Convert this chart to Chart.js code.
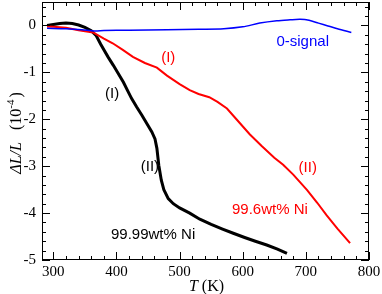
<!DOCTYPE html>
<html>
<head>
<meta charset="utf-8">
<script src="https://cdn.jsdelivr.net/npm/chart.js@4.4.0/dist/chart.umd.min.js"></script>
<style>
  html, body { margin: 0; padding: 0; background: #fff; }
  #wrap { width: 382px; height: 294px; }
</style>
</head>
<body>
<div id="wrap"><canvas id="dilChart" width="382" height="294"></canvas></div>
<script>
// ========== DATA ==========
// 99.99wt% Ni (black)
const tempBlack = [290, 300, 310, 320, 330, 340, 350, 360, 368, 375, 380, 387, 395, 403, 411, 418, 424, 432, 440, 448, 456, 461, 464, 467, 471, 475, 482, 490, 500, 516, 532, 550, 568, 585, 603, 620, 638, 655, 670];
const dlBlack   = [0.00, 0.02, 0.04, 0.05, 0.04, 0.01, -0.04, -0.11, -0.22, -0.40, -0.52, -0.68, -0.85, -1.03, -1.21, -1.40, -1.56, -1.74, -1.91, -2.09, -2.27, -2.42, -2.62, -2.98, -3.30, -3.50, -3.69, -3.80, -3.89, -4.00, -4.13, -4.24, -4.34, -4.43, -4.52, -4.60, -4.68, -4.77, -4.86];

// 99.6wt% Ni (red)
const tempRed = [290, 300, 320, 340, 363, 380, 394, 410, 426, 445, 464, 480, 500, 516, 530, 547, 560, 575, 590, 611, 630, 650, 664, 680, 702, 718, 733, 750, 770];
const dlRed   = [-0.02, -0.03, -0.05, -0.10, -0.15, -0.28, -0.38, -0.52, -0.67, -0.80, -0.90, -1.07, -1.25, -1.38, -1.46, -1.53, -1.63, -1.77, -2.00, -2.32, -2.57, -2.82, -2.97, -3.18, -3.51, -3.78, -4.05, -4.33, -4.64];

// 0-signal (blue)
const tempBlue = [290, 320, 345, 365, 380, 420, 480, 530, 570, 600, 627, 654, 675, 691, 705, 720, 735, 750, 772];
const dlBlue   = [-0.06, -0.07, -0.09, -0.12, -0.11, -0.10, -0.09, -0.08, -0.07, -0.03, 0.05, 0.10, 0.12, 0.13, 0.11, 0.05, -0.01, -0.07, -0.15];

// ========== AXES ==========
const xMajorTicks = [300, 400, 500, 600, 700, 800];
const yMajorTicks = [-5, -4, -3, -2, -1, 0];
const xMinorStep = 20;
const yMinorStep = 0.2;

// ========== TEXT LABELS (data coords) ==========
const notes = [
  { text: '0-signal',    t: 695, v: -0.36, color: '#0000ff' },
  { text: '(I)',         t: 482, v: -0.70, color: '#ff0000' },
  { text: '(I)',         t: 393, v: -1.45, color: '#000000' },
  { text: '(II)',        t: 453, v: -3.02, color: '#000000' },
  { text: '(II)',        t: 703, v: -3.04, color: '#ff0000' },
  { text: '99.6wt% Ni',  t: 643, v: -3.94, color: '#ff0000' },
  { text: '99.99wt% Ni', t: 458, v: -4.47, color: '#000000' }
];

function toPoints(ts, vs) {
  return ts.map((t, i) => ({ x: t, y: vs[i] }));
}

const xTickValues = [];
for (let t = 300; t <= 800; t += xMinorStep) xTickValues.push(t);
const yTickValues = [];
for (let i = 0; i <= 27; i++) yTickValues.push(Math.round((-5 + i * yMinorStep) * 10) / 10);

const serif = '"Liberation Serif", "Times New Roman", serif';
const sans = '"Liberation Sans", Arial, sans-serif';

// ========== FRAME, INWARD TICKS, NOTES, TITLES ==========
const decorPlugin = {
  id: 'decor',
  afterDatasetsDraw(chart) {
    const { ctx, chartArea: a, scales: { x, y } } = chart;
    ctx.save();
    ctx.strokeStyle = '#000';
    ctx.lineWidth = 1;
    ctx.beginPath();
    xTickValues.forEach(v => {
      const px = Math.round(x.getPixelForValue(v)) + 0.5;
      const len = xMajorTicks.includes(v) ? 8 : 4;
      ctx.moveTo(px, a.bottom); ctx.lineTo(px, a.bottom - len);
      ctx.moveTo(px, a.top); ctx.lineTo(px, a.top + len);
    });
    yTickValues.forEach(v => {
      const py = Math.round(y.getPixelForValue(v)) + 0.5;
      const len = yMajorTicks.includes(v) ? 8 : 4;
      ctx.moveTo(a.left, py); ctx.lineTo(a.left + len, py);
      ctx.moveTo(a.right, py); ctx.lineTo(a.right - len, py);
    });
    ctx.stroke();
    ctx.strokeRect(Math.round(a.left) + 0.5, Math.round(a.top) + 0.5, Math.round(a.width) - 1, Math.round(a.height) - 1);

    // notes
    ctx.font = '15px ' + sans;
    ctx.textAlign = 'center';
    ctx.textBaseline = 'middle';
    notes.forEach(n => {
      ctx.fillStyle = n.color;
      ctx.fillText(n.text, x.getPixelForValue(n.t), y.getPixelForValue(n.v));
    });

    // x title: T (K)
    ctx.fillStyle = '#000';
    ctx.textAlign = 'left';
    ctx.textBaseline = 'alphabetic';
    ctx.font = 'italic 16px ' + serif;
    const wT = ctx.measureText('T').width;
    ctx.font = '16px ' + serif;
    const wK = ctx.measureText('(K)').width;
    const gap = 4;
    let sx = (a.left + a.right) / 2 + 1 - (wT + gap + wK) / 2;
    ctx.font = 'italic 16px ' + serif;
    ctx.fillText('T', sx, 291);
    ctx.font = '16px ' + serif;
    ctx.fillText('(K)', sx + wT + gap, 291);

    // y title: ΔL/L (10^-4)
    ctx.save();
    ctx.translate(15, (a.top + a.bottom) / 2 + 2);
    ctx.rotate(-Math.PI / 2);
    ctx.font = 'italic 16px ' + serif;
    const w1 = ctx.measureText('\u0394L/L').width;
    ctx.font = '16px ' + serif;
    const w2 = ctx.measureText('(10').width;
    ctx.font = '11px ' + serif;
    const w3 = ctx.measureText('-4').width;
    ctx.font = '16px ' + serif;
    const w4 = ctx.measureText(')').width;
    const gap2 = 12;
    let lx = -(w1 + gap2 + w2 + w3 + w4 + 2) / 2;
    const base = 6;
    ctx.font = 'italic 16px ' + serif;
    ctx.fillText('\u0394L/L', lx, base);
    lx += w1 + gap2;
    ctx.font = '16px ' + serif;
    ctx.fillText('(10', lx, base);
    lx += w2;
    ctx.font = '11px ' + serif;
    ctx.fillText('-4', lx, base - 7);
    lx += w3 + 2;
    ctx.font = '16px ' + serif;
    ctx.fillText(')', lx, base);
    ctx.restore();

    ctx.restore();
  }
};

// ========== CHART ==========
const dilCtx = document.getElementById('dilChart');
const dilChart = new Chart(dilCtx, {
  type: 'line',
  data: {
    datasets: [
      {
        label: '0-signal',
        data: toPoints(tempBlue, dlBlue),
        borderColor: '#0000ff',
        borderWidth: 1.5,
        pointRadius: 0,
        tension: 0.3,
        fill: false
      },
      {
        label: '99.6wt% Ni',
        data: toPoints(tempRed, dlRed),
        borderColor: '#ff0000',
        borderWidth: 2,
        pointRadius: 0,
        tension: 0,
        fill: false
      },
      {
        label: '99.99wt% Ni',
        data: toPoints(tempBlack, dlBlack),
        borderColor: '#000000',
        borderWidth: 3,
        pointRadius: 0,
        tension: 0,
        fill: false
      }
    ]
  },
  options: {
    responsive: false,
    animation: false,
    devicePixelRatio: 1,
    layout: { padding: { top: 2, right: 13, left: 0, bottom: 0 } },
    plugins: {
      legend: { display: false },
      tooltip: { enabled: false }
    },
    scales: {
      x: {
        type: 'linear',
        min: 282,
        max: 800,
        grid: { display: false, drawTicks: false },
        border: { display: false },
        afterBuildTicks: scale => { scale.ticks = xTickValues.map(v => ({ value: v })); },
        afterFit: scale => {
          scale.height = 34;
          scale.paddingLeft = 0; scale.paddingRight = 0;
        },
        ticks: {
          autoSkip: false,
          maxRotation: 0,
          padding: 3,
          color: '#000',
          font: { family: serif, size: 15 },
          callback: value => xMajorTicks.includes(value) ? String(value) : ''
        }
      },
      y: {
        type: 'linear',
        min: -5,
        max: 0.5,
        grid: { display: false, drawTicks: false },
        border: { display: false },
        afterBuildTicks: scale => { scale.ticks = yTickValues.map(v => ({ value: v })); },
        afterFit: scale => {
          scale.width = 42;
          scale.paddingTop = 0; scale.paddingBottom = 0;
        },
        ticks: {
          autoSkip: false,
          padding: 6,
          color: '#000',
          font: { family: serif, size: 15 },
          callback: value => {
            const v = Math.round(value * 10) / 10;
            return yMajorTicks.includes(v) ? String(v) : '';
          }
        }
      }
    }
  },
  plugins: [decorPlugin]
});
</script>
</body>
</html>
